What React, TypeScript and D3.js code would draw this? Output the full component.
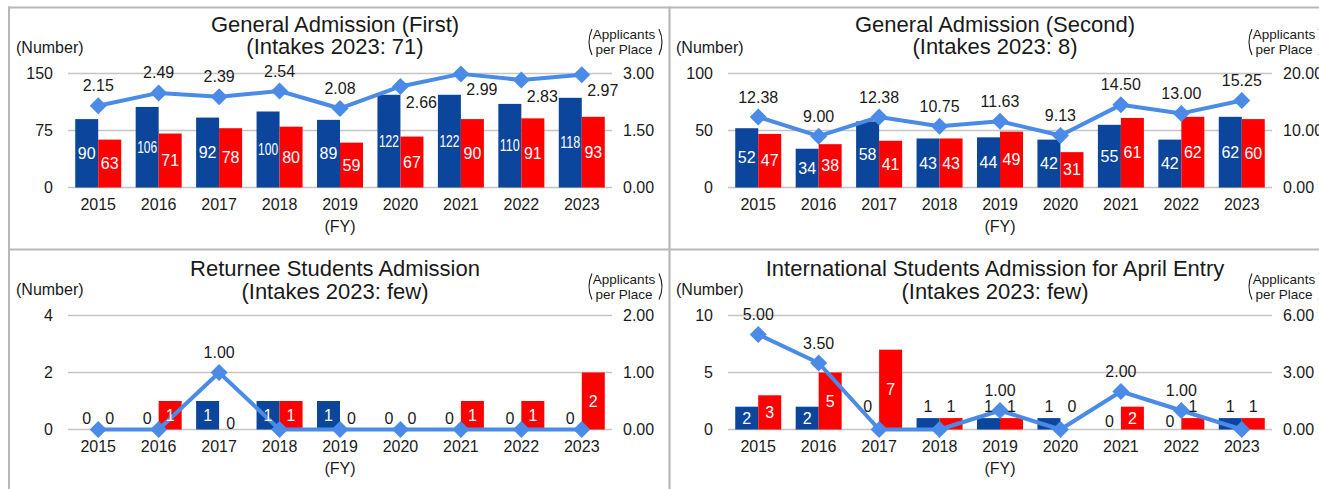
import React from 'react';
import * as d3 from 'd3';

// ---------- data ----------
const years = ['2015', '2016', '2017', '2018', '2019', '2020', '2021', '2022', '2023'];

const firstTitle = ['General Admission (First)', '(Intakes 2023: 71)'];
const firstGroupA = [90, 106, 92, 100, 89, 122, 122, 110, 118];
const firstGroupB = [63, 71, 78, 80, 59, 67, 90, 91, 93];
const firstRatio = [2.15, 2.49, 2.39, 2.54, 2.08, 2.66, 2.99, 2.83, 2.97];
const firstLeftTicks = [0, 75, 150];
const firstRightTicks = [0, 1.5, 3];

const secondTitle = ['General Admission (Second)', '(Intakes 2023: 8)'];
const secondGroupA = [52, 34, 58, 43, 44, 42, 55, 42, 62];
const secondGroupB = [47, 38, 41, 43, 49, 31, 61, 62, 60];
const secondRatio = [12.38, 9.0, 12.38, 10.75, 11.63, 9.13, 14.5, 13.0, 15.25];
const secondLeftTicks = [0, 50, 100];
const secondRightTicks = [0, 10, 20];

const returneeTitle = ['Returnee Students Admission', '(Intakes 2023: few)'];
const returneeGroupA = [0, 0, 1, 1, 1, 0, 0, 0, 0];
const returneeGroupB = [0, 1, 0, 1, 0, 0, 1, 1, 2];
const returneeRatio = [0, 0, 1.0, 0, 0, 0, 0, 0, 0];
const returneeLeftTicks = [0, 2, 4];
const returneeRightTicks = [0, 1, 2];

const intlTitle = ['International Students Admission for April Entry', '(Intakes 2023: few)'];
const intlGroupA = [2, 2, 0, 1, 1, 1, 0, 0, 1];
const intlGroupB = [3, 5, 7, 1, 1, 0, 2, 1, 1];
const intlRatio = [5.0, 3.5, 0, 0, 1.0, 0, 2.0, 1.0, 0];
const intlLeftTicks = [0, 5, 10];
const intlRightTicks = [0, 3, 6];

// ---------- label placement config (not data) ----------
const firstLinePlacement = ['t', 't', 't', 't', 't', 'br', 'br', 'br', 'br'];
const allTop = ['t', 't', 't', 't', 't', 't', 't', 't', 't'];
const zeroNudge = [0, 0, 0, 0, 0, 0, 0, 0, 0];
const returneeNudgeB = [0, 0, 5, 0, 0, 0, 0, 0, 0];
const intlNudgeA = [0, 0, -12, 0, 0, 0, 3, 3, 0];
const intlNudgeB = [0, 0, 0, 0, 0, -12, 0, 0, 0];

const FONT = "Arial, 'Liberation Sans', Helvetica, sans-serif";
const TXT = '#1a1a1a';
const BLUE = '#0c469c';
const RED = '#ff0000';
const LINE = '#4a8be8';
const GRID = '#c4c4c4';
const fmt2 = d3.format('.2f');

type PanelProps = {
  ox: number;
  oy: number;
  td: number;
  title: string[];
  groupA: number[];
  groupB: number[];
  ratio: number[];
  leftTicks: number[];
  rightTicks: number[];
  placement: string[];
  nudgeA: number[];
  nudgeB: number[];
};

function Panel(p: PanelProps) {
  const { ox, oy, td } = p;
  const x = d3.scaleBand<string>().domain(years).range([68 + ox, 612 + ox]);
  const base = 187.5 + oy;
  const top = 73.5 + oy;
  const yL = d3.scaleLinear().domain([0, p.leftTicks[p.leftTicks.length - 1]]).range([base, top]);
  const yR = d3.scaleLinear().domain([0, p.rightTicks[p.rightTicks.length - 1]]).range([base, top]);
  const bw = x.bandwidth();
  const barW = 23;
  const cx = (i: number) => (x(years[i]) as number) + bw / 2;
  const lineGen = d3
    .line<number>()
    .x((_, i) => cx(i))
    .y((d) => yR(d));

  const barLabel = (v: number, xLeft: number, nudge: number, key: string) => {
    const t = yL(v);
    const b = yL(0);
    const h = b - t;
    const inside = h >= 18;
    const cy = inside ? (t + b) / 2 : t - 11.5 + nudge;
    const s = String(v);
    const wide = s.length >= 3;
    return (
      <text
        key={key}
        x={xLeft + barW / 2}
        y={cy}
        dy="0.35em"
        textAnchor="middle"
        fontSize={16}
        fill={inside ? '#ffffff' : TXT}
        {...(wide ? { textLength: 20, lengthAdjust: 'spacingAndGlyphs' } : {})}
      >
        {s}
      </text>
    );
  };

  return (
    <g fontFamily={FONT}>
      {/* titles */}
      <text x={335 + ox} y={31.7 + oy + td} textAnchor="middle" fontSize={22} fill={TXT}>
        {p.title[0]}
      </text>
      <text x={335 + ox} y={54.3 + oy + td} textAnchor="middle" fontSize={22} fill={TXT}>
        {p.title[1]}
      </text>
      <text x={16 + ox} y={53 + oy} fontSize={16} fill={TXT}>
        (Number)
      </text>
      <text x={624 + ox} y={39 + oy + td} textAnchor="middle" fontSize={13.5} fill={TXT}>
        Applicants
      </text>
      <text x={624 + ox} y={54 + oy + td} textAnchor="middle" fontSize={13.5} fill={TXT}>
        per Place
      </text>
      <path
        d={`M ${592 + ox} ${29 + oy + td} Q ${586 + ox} ${42 + oy + td} ${592 + ox} ${55 + oy + td}`}
        fill="none"
        stroke={TXT}
        strokeWidth={1.1}
      />
      <path
        d={`M ${659 + ox} ${29 + oy + td} Q ${665 + ox} ${42 + oy + td} ${659 + ox} ${55 + oy + td}`}
        fill="none"
        stroke={TXT}
        strokeWidth={1.1}
      />

      {/* grid + axes */}
      {p.leftTicks.map((t) => (
        <line key={'g' + t} x1={68 + ox} x2={612 + ox} y1={yL(t)} y2={yL(t)} stroke={GRID} strokeWidth={1.6} />
      ))}
      {p.leftTicks.map((t) => (
        <text key={'l' + t} x={53 + ox} y={yL(t)} dy="0.35em" textAnchor="end" fontSize={16} fill={TXT}>
          {t}
        </text>
      ))}
      {p.rightTicks.map((t) => (
        <text key={'r' + t} x={623 + ox} y={yR(t)} dy="0.35em" textAnchor="start" fontSize={16} fill={TXT}>
          {fmt2(t)}
        </text>
      ))}
      {years.map((yr, i) => (
        <text key={'x' + yr} x={cx(i)} y={210 + oy} textAnchor="middle" fontSize={16} fill={TXT}>
          {yr}
        </text>
      ))}
      <text x={340 + ox} y={232 + oy} textAnchor="middle" fontSize={16} fill={TXT}>
        (FY)
      </text>

      {/* bars */}
      {years.map((yr, i) => (
        <g key={'b' + yr}>
          <rect x={cx(i) - barW} y={yL(p.groupA[i])} width={barW} height={base - yL(p.groupA[i])} fill={BLUE} />
          <rect x={cx(i)} y={yL(p.groupB[i])} width={barW} height={base - yL(p.groupB[i])} fill={RED} />
        </g>
      ))}

      {/* line */}
      <path d={lineGen(p.ratio) || ''} fill="none" stroke={LINE} strokeWidth={4} strokeLinejoin="round" />
      {p.ratio.map((v, i) => {
        const px = cx(i);
        const py = yR(v);
        const r = 8.5;
        return (
          <path
            key={'m' + i}
            d={`M ${px} ${py - r} L ${px + r} ${py} L ${px} ${py + r} L ${px - r} ${py} Z`}
            fill={LINE}
          />
        );
      })}

      {/* bar labels */}
      {years.map((yr, i) => (
        <g key={'bl' + yr}>
          {barLabel(p.groupA[i], cx(i) - barW, p.nudgeA[i], 'a' + i)}
          {barLabel(p.groupB[i], cx(i), p.nudgeB[i], 'b' + i)}
        </g>
      ))}

      {/* line labels */}
      {p.ratio.map((v, i) => {
        if (v === 0) return null;
        const br = p.placement[i] === 'br';
        const lx = cx(i) + (br ? 21 : 0);
        const ly = yR(v) + (br ? 16 : -20);
        return (
          <text key={'ll' + i} x={lx} y={ly} dy="0.35em" textAnchor="middle" fontSize={16} fill={TXT}>
            {fmt2(v)}
          </text>
        );
      })}
    </g>
  );
}

export default function App() {
  const W = 1319;
  const H = 489;
  const BORDER = '#b8b8b8';
  return (
    <svg
      width={W}
      height={H}
      viewBox={`0 0 ${W} ${H}`}
      style={{ position: 'absolute', left: 0, top: 0, background: '#ffffff' }}
    >
      <rect x={0} y={0} width={W} height={H} fill="#ffffff" />
      {/* cell borders */}
      <line x1={8} x2={W} y1={7.5} y2={7.5} stroke={BORDER} strokeWidth={2} />
      <line x1={9} x2={9} y1={6.5} y2={H} stroke={BORDER} strokeWidth={2} />
      <line x1={669.5} x2={669.5} y1={6.5} y2={H} stroke={BORDER} strokeWidth={2.2} />
      <line x1={8} x2={W} y1={249.5} y2={249.5} stroke={BORDER} strokeWidth={2.2} />

      <Panel
        ox={0}
        oy={0}
        td={0}
        title={firstTitle}
        groupA={firstGroupA}
        groupB={firstGroupB}
        ratio={firstRatio}
        leftTicks={firstLeftTicks}
        rightTicks={firstRightTicks}
        placement={firstLinePlacement}
        nudgeA={zeroNudge}
        nudgeB={zeroNudge}
      />
      <Panel
        ox={660}
        oy={0}
        td={0}
        title={secondTitle}
        groupA={secondGroupA}
        groupB={secondGroupB}
        ratio={secondRatio}
        leftTicks={secondLeftTicks}
        rightTicks={secondRightTicks}
        placement={allTop}
        nudgeA={zeroNudge}
        nudgeB={zeroNudge}
      />
      <Panel
        ox={0}
        oy={242}
        td={2.5}
        title={returneeTitle}
        groupA={returneeGroupA}
        groupB={returneeGroupB}
        ratio={returneeRatio}
        leftTicks={returneeLeftTicks}
        rightTicks={returneeRightTicks}
        placement={allTop}
        nudgeA={zeroNudge}
        nudgeB={returneeNudgeB}
      />
      <Panel
        ox={660}
        oy={242}
        td={2.5}
        title={intlTitle}
        groupA={intlGroupA}
        groupB={intlGroupB}
        ratio={intlRatio}
        leftTicks={intlLeftTicks}
        rightTicks={intlRightTicks}
        placement={allTop}
        nudgeA={intlNudgeA}
        nudgeB={intlNudgeB}
      />
    </svg>
  );
}
